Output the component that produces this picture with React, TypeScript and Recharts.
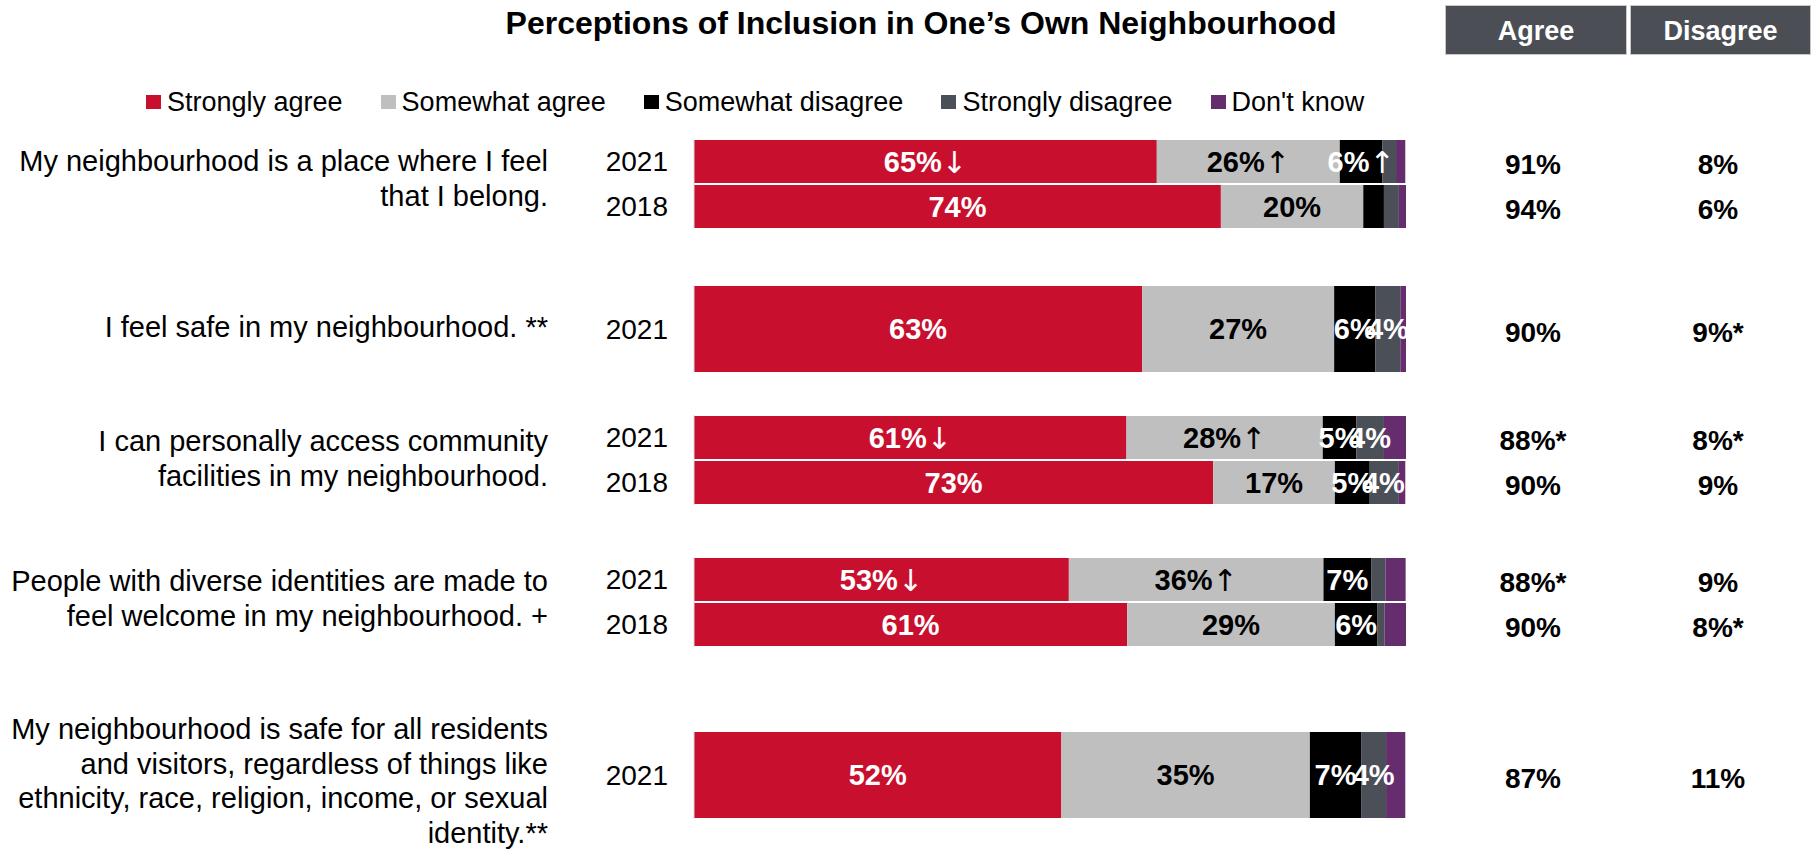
import { BarChart, Bar, XAxis, YAxis, LabelList } from "recharts";

// one entry per bar row, top to bottom
const years = ["2021", "2018", "2021", "2021", "2018", "2021", "2018", "2021"];
const groupOf = [0, 0, 1, 2, 2, 3, 3, 4];
const stronglyAgree = [65, 74, 63, 60.8, 73, 52.7, 60.9, 51.6];
const somewhatAgree = [25.7, 20, 27, 27.6, 17.1, 35.8, 29.2, 34.9];
const somewhatDisagree = [6, 2.9, 5.8, 4.7, 4.9, 6.7, 6, 7.2];
const stronglyDisagree = [1.9, 2.1, 3.5, 3.9, 4, 2, 1, 3.5];
const dontKnow = [1.3, 1, 0.8, 3.1, 1, 2.85, 3, 2.7];
const trendStronglyAgree = ["↓", "", "", "↓", "", "↓", "", ""];
const trendSomewhatAgree = ["↑", "", "", "↑", "", "↑", "", ""];
const trendSomewhatDisagree = ["↑", "", "", "", "", "", "", ""];
const agreeNet = ["91%", "94%", "90%", "88%*", "90%", "88%*", "90%", "87%"];
const disagreeNet = ["8%", "6%", "9%*", "8%*", "9%", "9%", "8%*", "11%"];

const questions = [
  ["My neighbourhood is a place where I feel", "that I belong."],
  ["I feel safe in my neighbourhood. **"],
  ["I can personally access community", "facilities in my neighbourhood."],
  ["People with diverse identities are made to", "feel welcome in my neighbourhood. +"],
  [
    "My neighbourhood is safe for all residents",
    "and visitors, regardless of things like",
    "ethnicity, race, religion, income, or sexual",
    "identity.**",
  ],
];

const seriesKeys = ["sa", "swa", "swd", "sd", "dk"];
const seriesNames = ["Strongly agree", "Somewhat agree", "Somewhat disagree", "Strongly disagree", "Don't know"];
const seriesColors = ["#c8102e", "#bfbfbf", "#000000", "#4b4f57", "#652d6e"];
const labelColors = ["#ffffff", "#000000", "#ffffff", "#ffffff", null];

const FONT = '"Liberation Sans", Arial, sans-serif';

// layout of each question block
const groupTop = [139, 285, 415, 557, 731];
const labelTop = [144, 310, 424, 564, 712];

const allRows = years.map((year, i) => ({
  year,
  group: groupOf[i],
  sa: stronglyAgree[i],
  swa: somewhatAgree[i],
  swd: somewhatDisagree[i],
  sd: stronglyDisagree[i],
  dk: dontKnow[i],
  trend: [trendStronglyAgree[i], trendSomewhatAgree[i], trendSomewhatDisagree[i], "", ""],
  agree: agreeNet[i],
  disagree: disagreeNet[i],
}));

function makeLabel(rows: any[], s: number) {
  return (props: any) => {
    const vb = props.viewBox || props;
    const x = vb.x ?? props.x;
    const y = vb.y ?? props.y;
    const w = vb.width ?? props.width;
    const h = vb.height ?? props.height;
    const value = props.value;
    const row = rows[props.index];
    if (!labelColors[s] || value == null || value < 3.4 || !row) return null;
    return (
      <text
        x={x + w / 2}
        y={y + h / 2}
        textAnchor="middle"
        dominantBaseline="central"
        fill={labelColors[s]}
        fontFamily={FONT}
        fontWeight="bold"
        fontSize={29}
      >
        {Math.round(value) + "%"}
        {row.trend[s] ? (
          <tspan fontFamily='"DejaVu Sans", sans-serif' fontWeight="normal" fontSize={30}>
            {row.trend[s]}
          </tspan>
        ) : null}
      </text>
    );
  };
}

function netTick(rows: any[]) {
  return (props: any) => {
    const { x, y, index } = props;
    const row = rows[index];
    if (!row) return <g />;
    return (
      <g fontFamily={FONT} fontWeight="bold" fontSize={28} fill="#000">
        <text x={x + 127} y={y + 3} textAnchor="middle" dominantBaseline="central">
          {row.agree}
        </text>
        <text x={x + 312} y={y + 3} textAnchor="middle" dominantBaseline="central">
          {row.disagree}
        </text>
      </g>
    );
  };
}

function GroupChart({ g }: { g: number }) {
  const rows = allRows.filter((r) => r.group === g);
  const single = rows.length === 1;
  const height = single ? 88 : 90;
  return (
    <div style={{ position: "absolute", left: 590, top: groupTop[g] }}>
      <BarChart
        layout="vertical"
        width={1228}
        height={height}
        data={rows}
        margin={{ top: 0, right: 0, bottom: 0, left: 0 }}
        barCategoryGap={0}
      >
        <XAxis type="number" domain={[0, 100]} hide />
        <YAxis
          yAxisId="left"
          type="category"
          dataKey="year"
          width={104}
          tickLine={false}
          tickSize={0}
          tickMargin={26}
          axisLine={{ stroke: "#d9d9d9" }}
          tick={{ fill: "#000", fontSize: 28, fontFamily: FONT }}
        />
        <YAxis
          yAxisId="right"
          orientation="right"
          type="category"
          dataKey="year"
          width={412}
          tickLine={false}
          tickSize={0}
          tickMargin={0}
          axisLine={false}
          tick={netTick(rows)}
        />
        {seriesKeys.map((k, i) => (
          <Bar
            key={k}
            yAxisId="left"
            dataKey={k}
            name={seriesNames[i]}
            stackId="a"
            fill={seriesColors[i]}
            barSize={single ? 86 : 43}
            isAnimationActive={false}
          >
            <LabelList dataKey={k} content={makeLabel(rows, i)} />
          </Bar>
        ))}
      </BarChart>
    </div>
  );
}

export default function App() {
  return (
    <div
      style={{
        position: "absolute",
        left: 0,
        top: 0,
        width: 1818,
        height: 850,
        background: "#fff",
        fontFamily: FONT,
        color: "#000",
        overflow: "hidden",
      }}
    >
      <div
        style={{
          position: "absolute",
          left: 421,
          top: 4,
          width: 1000,
          textAlign: "center",
          fontWeight: "bold",
          fontSize: 32,
          lineHeight: "38px",
        }}
      >
        Perceptions of Inclusion in One’s Own Neighbourhood
      </div>

      {["Agree", "Disagree"].map((h, i) => (
        <div
          key={h}
          style={{
            position: "absolute",
            left: i === 0 ? 1445 : 1630,
            top: 5,
            width: i === 0 ? 182 : 181,
            height: 50,
            background: "#4b4e55",
            color: "#fff",
            fontWeight: "bold",
            fontSize: 27,
            lineHeight: "50px",
            textAlign: "center",
            boxSizing: "border-box",
            border: "1px solid #c8c8c8",
          }}
        >
          {h}
        </div>
      ))}

      <div
        style={{
          position: "absolute",
          left: 146,
          top: 84,
          display: "flex",
          alignItems: "center",
          fontSize: 27,
          lineHeight: "36px",
          whiteSpace: "nowrap",
        }}
      >
        {seriesNames.map((n, i) => (
          <div key={n} style={{ display: "flex", alignItems: "center", marginRight: 38 }}>
            <span
              style={{
                display: "inline-block",
                width: 15,
                height: 14,
                background: seriesColors[i],
                marginRight: 6,
              }}
            />
            <span>{n}</span>
          </div>
        ))}
      </div>

      {questions.map((lines, g) => (
        <div
          key={g}
          style={{
            position: "absolute",
            left: 0,
            top: labelTop[g],
            width: 548,
            textAlign: "right",
            fontSize: 29,
            lineHeight: g === 4 ? "34.5px" : "35px",
            whiteSpace: "nowrap",
          }}
        >
          {lines.map((l) => (
            <div key={l}>{l}</div>
          ))}
        </div>
      ))}

      {questions.map((_, g) => (
        <GroupChart key={g} g={g} />
      ))}
    </div>
  );
}
